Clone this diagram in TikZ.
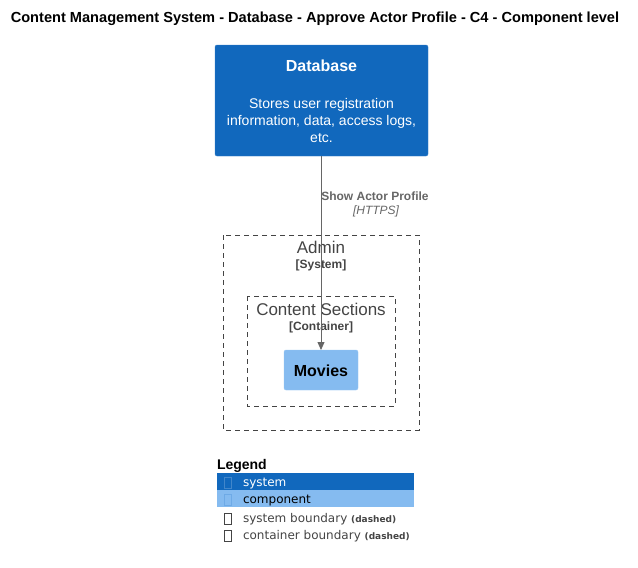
\documentclass[tikz,border=0pt]{standalone}
\usepackage{fontspec}
\setmainfont{Liberation Sans}
\newfontfamily\legendfont{DejaVu Sans}
\usetikzlibrary{arrows.meta}
\definecolor{sysblue}{HTML}{1168BD}
\definecolor{compblue}{HTML}{85BBF0}
\definecolor{bndgrey}{HTML}{444444}
\definecolor{relgrey}{HTML}{666666}
\begin{document}
\begin{tikzpicture}[x=1pt, y=-1pt,
		every node/.style={inner sep=0, outer sep=0},
		sysbox/.style={draw=sysblue!85!white, fill=sysblue, rounded corners=2pt},
		compbox/.style={draw=compblue!85!white, fill=compblue, rounded corners=2pt},
		boundary/.style={draw=bndgrey, line width=0.7pt, dash pattern=on 5pt off 4pt},
		rel/.style={draw=relgrey, line width=0.8pt, -{Triangle[length=8pt, width=7pt]}},
		tofu/.style={draw, line width=0.5pt, minimum width=7pt, minimum height=11pt},
		legendtext/.style={anchor=west, font=\legendfont\fontsize{12}{14}\selectfont},
	]
	\useasboundingbox (0,0) rectangle (638,568);
	\node[font=\fontsize{14.6}{16}\selectfont\bfseries] (title) at (315,19) {Content Management System - Database - Approve Actor Profile - C4 - Component level};
	% database
	\node[sysbox, minimum width=213pt, minimum height=111pt] (db) at (321.5,100.5) {};
	\node[text=white, font=\fontsize{16}{18}\selectfont\bfseries] (dbname) at (321.5,66) {Database};
	\node[text=white, align=center, font=\fontsize{14}{17}\selectfont] (dbdesc) at (321.5,120.5) {Stores user registration\\information, data, access logs,\\etc.};
	% boundaries
	\draw[boundary] (223,235) rectangle (419,430);
	\node[text=bndgrey, font=\fontsize{17}{19}\selectfont] (admin) at (321,247) {Admin};
	\node[text=bndgrey, font=\fontsize{12}{14}\selectfont\bfseries] (admintype) at (321,265.5) {[System]};
	\draw[boundary] (247,296) rectangle (395,406);
	\node[text=bndgrey, font=\fontsize{17}{19}\selectfont] (sections) at (321,309) {Content Sections};
	\node[text=bndgrey, font=\fontsize{12}{14}\selectfont\bfseries] (sectionstype) at (321,327.5) {[Container]};
	% component
	\node[compbox, minimum width=74pt, minimum height=40pt] (movies) at (321,370) {};
	\node[font=\fontsize{16}{18}\selectfont\bfseries] (moviesname) at (321,371) {Movies};
	\draw[rel] (db.south -| movies.north) -- (movies.north);
	\node[text=relgrey, font=\fontsize{12}{14}\selectfont\bfseries] (rellabel) at (375,196) {Show Actor Profile};
	\node[text=relgrey, font=\fontsize{12}{14}\selectfont\itshape] (reltech) at (376,211.5) {[HTTPS]};
	% legend
	\node[anchor=west, font=\fontsize{14}{16}\selectfont\bfseries] (legend) at (217,465.5) {Legend};
	\fill[sysblue] (217,473) rectangle (414,490);
	\fill[compblue] (217,490) rectangle (414,507);
	\node[tofu, draw=sysblue!80!white] (tofu1) at (228,482.5) {};
	\node[tofu, draw=compblue!80!sysblue] (tofu2) at (228,499.5) {};
	\node[tofu, draw=bndgrey] (tofu3) at (228,518.5) {};
	\node[tofu, draw=bndgrey] (tofu4) at (228,535.5) {};
	\node[legendtext, text=white] (lsys) at (243,483.5) {system};
	\node[legendtext] (lcomp) at (243,500.5) {component};
	\node[legendtext, text=bndgrey] (lsysb) at (243,519.5) {system boundary {\fontsize{9}{10}\selectfont\bfseries (dashed)}};
	\node[legendtext, text=bndgrey] (lconb) at (243,536.5) {container boundary {\fontsize{9}{10}\selectfont\bfseries (dashed)}};
\end{tikzpicture}
\end{document}
